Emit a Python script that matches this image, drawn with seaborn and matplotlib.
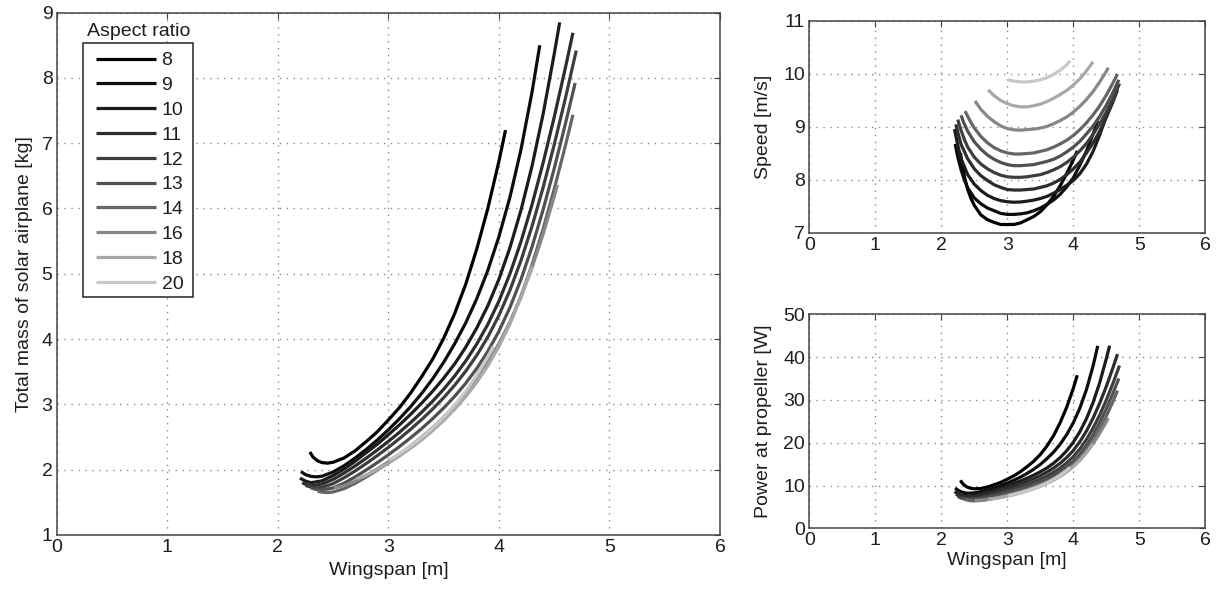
import matplotlib
matplotlib.use("Agg")
import matplotlib.pyplot as plt
from matplotlib.patches import Rectangle
import pandas as pd
import seaborn as sns

# ---------------- data ----------------
ASPECT_RATIOS = ["8", "9", "10", "11", "12", "13", "14", "16", "18", "20"]
LINE_COLORS = ["#000000", "#0d0d0d", "#1c1c1c", "#2c2c2c", "#3d3d3d",
               "#505050", "#656565", "#878787", "#a8a8a8", "#c8c8c8"]

# wingspan [m], total mass [kg], speed [m/s], power at propeller [W]
b8 = [2.29, 2.32, 2.36, 2.40, 2.45, 2.50, 2.60, 2.70, 2.80, 2.90, 3.00, 3.10, 3.20, 3.30,
      3.40, 3.50, 3.60, 3.70, 3.80, 3.90, 4.00, 4.06]
m8 = [2.27, 2.19, 2.135, 2.108, 2.10, 2.113, 2.18, 2.29, 2.43, 2.58, 2.76, 2.95, 3.17, 3.42,
      3.69, 4.01, 4.39, 4.84, 5.38, 6.00, 6.72, 7.20]
v8 = [8.51, 8.25, 8.01, 7.82, 7.65, 7.52, 7.34, 7.25, 7.20, 7.16, 7.16, 7.16, 7.19, 7.25,
      7.31, 7.40, 7.53, 7.69, 7.89, 8.12, 8.38, 8.55]
p8 = [11.22, 10.50, 9.94, 9.58, 9.33, 9.23, 9.30, 9.65, 10.17, 10.73, 11.48, 12.27, 13.24, 14.41,
      15.67, 17.24, 19.21, 21.63, 24.66, 28.31, 32.72, 35.77]

b9 = [2.21, 2.25, 2.30, 2.35, 2.40, 2.50, 2.60, 2.70, 2.80, 2.90, 3.00, 3.10, 3.20, 3.30,
      3.40, 3.50, 3.60, 3.70, 3.80, 3.90, 4.00, 4.10, 4.20, 4.30, 4.37]
m9 = [1.97, 1.925, 1.897, 1.89, 1.90, 1.964, 2.061, 2.179, 2.31, 2.454, 2.61, 2.779, 2.962, 3.164,
      3.389, 3.643, 3.928, 4.248, 4.618, 5.053, 5.566, 6.173, 6.903, 7.783, 8.50]
v9 = [8.68, 8.43, 8.19, 8.00, 7.85, 7.66, 7.55, 7.47, 7.42, 7.37, 7.35, 7.35, 7.36, 7.38,
      7.42, 7.47, 7.54, 7.62, 7.73, 7.87, 8.04, 8.28, 8.55, 8.87, 9.12]
p9 = [9.41, 8.93, 8.55, 8.32, 8.20, 8.27, 8.56, 8.95, 9.43, 9.96, 10.57, 11.23, 11.97, 12.83,
      13.79, 14.93, 16.27, 17.78, 19.63, 21.90, 24.67, 28.11, 32.46, 37.97, 42.64]

b10 = [2.20, 2.25, 2.30, 2.40, 2.50, 2.60, 2.70, 2.80, 2.90, 3.00, 3.10, 3.20, 3.30, 3.40,
       3.50, 3.60, 3.70, 3.80, 3.90, 4.00, 4.10, 4.20, 4.30, 4.40, 4.50, 4.55]
m10 = [1.87, 1.826, 1.80, 1.83, 1.91, 2.01, 2.13, 2.26, 2.39, 2.535, 2.685, 2.845, 3.016, 3.20,
       3.40, 3.62, 3.875, 4.17, 4.51, 4.915, 5.40, 5.975, 6.65, 7.445, 8.36, 8.85]
v10 = [8.96, 8.65, 8.40, 8.10, 7.92, 7.80, 7.71, 7.65, 7.61, 7.59, 7.58, 7.585, 7.60, 7.62,
       7.65, 7.69, 7.75, 7.82, 7.90, 7.99, 8.12, 8.30, 8.54, 8.85, 9.20, 9.40]
p10 = [8.58, 8.09, 7.74, 7.61, 7.78, 8.09, 8.50, 8.96, 9.40, 9.93, 10.48, 11.06, 11.71, 12.42,
       13.21, 14.10, 15.20, 16.52, 18.13, 20.11, 22.59, 25.64, 29.42, 34.04, 39.64, 42.68]

b11 = [2.22, 2.26, 2.30, 2.40, 2.50, 2.60, 2.70, 2.80, 2.90, 3.00, 3.10, 3.20, 3.30, 3.40,
       3.50, 3.60, 3.70, 3.80, 3.90, 4.00, 4.10, 4.20, 4.30, 4.40, 4.50, 4.60, 4.67]
m11 = [1.80, 1.77, 1.752, 1.78, 1.851, 1.948, 2.058, 2.176, 2.301, 2.433, 2.572, 2.72, 2.877, 3.047,
       3.231, 3.435, 3.664, 3.924, 4.225, 4.58, 5.00, 5.493, 6.06, 6.698, 7.395, 8.143, 8.69]
v11 = [9.05, 8.85, 8.67, 8.40, 8.21, 8.08, 7.99, 7.91, 7.86, 7.82, 7.81, 7.81, 7.82, 7.83,
       7.86, 7.89, 7.94, 8.01, 8.10, 8.21, 8.34, 8.51, 8.70, 8.92, 9.18, 9.47, 9.70]
p11 = [7.95, 7.64, 7.41, 7.30, 7.43, 7.73, 8.09, 8.48, 8.93, 9.38, 9.87, 10.41, 10.98, 11.61,
       12.31, 13.13, 14.07, 15.19, 16.54, 18.19, 20.25, 22.76, 25.76, 29.25, 33.16, 37.51, 40.71]

b12 = [2.25, 2.29, 2.35, 2.40, 2.50, 2.60, 2.70, 2.80, 2.90, 3.00, 3.10, 3.20, 3.30, 3.40,
       3.50, 3.60, 3.70, 3.80, 3.90, 4.00, 4.10, 4.20, 4.30, 4.40, 4.50, 4.60, 4.70]
m12 = [1.76, 1.737, 1.72, 1.729, 1.786, 1.876, 1.981, 2.095, 2.215, 2.341, 2.475, 2.616, 2.766, 2.927,
       3.101, 3.293, 3.508, 3.751, 4.032, 4.361, 4.748, 5.203, 5.728, 6.32, 6.973, 7.675, 8.418]
v12 = [9.14, 8.97, 8.76, 8.62, 8.43, 8.30, 8.21, 8.14, 8.09, 8.06, 8.05, 8.05, 8.06, 8.08,
       8.10, 8.14, 8.19, 8.25, 8.33, 8.43, 8.55, 8.69, 8.86, 9.06, 9.28, 9.53, 9.82]
p12 = [7.40, 7.17, 6.92, 6.86, 6.94, 7.21, 7.55, 7.92, 8.33, 8.77, 9.23, 9.72, 10.26, 10.84,
       11.48, 12.22, 13.07, 14.08, 15.28, 16.75, 18.56, 20.77, 23.42, 26.48, 29.99, 33.86, 38.03]

b13 = [2.30, 2.34, 2.40, 2.50, 2.60, 2.70, 2.80, 2.90, 3.00, 3.10, 3.20, 3.30, 3.40,
       3.50, 3.60, 3.70, 3.80, 3.90, 4.00, 4.10, 4.20, 4.30, 4.40, 4.50, 4.60, 4.69]
m13 = [1.72, 1.70, 1.69, 1.72, 1.794, 1.889, 1.995, 2.108, 2.227, 2.353, 2.486, 2.627, 2.779,
       2.943, 3.123, 3.323, 3.55, 3.812, 4.119, 4.483, 4.913, 5.413, 5.98, 6.608, 7.285, 7.92]
v13 = [9.22, 9.08, 8.92, 8.72, 8.58, 8.47, 8.39, 8.33, 8.29, 8.27, 8.27, 8.28, 8.29,
       8.32, 8.35, 8.39, 8.45, 8.53, 8.62, 8.73, 8.87, 9.02, 9.20, 9.41, 9.65, 9.89]
p13 = [7.09, 6.88, 6.71, 6.67, 6.86, 7.17, 7.53, 7.92, 8.31, 8.76, 9.22, 9.72, 10.29,
       10.88, 11.56, 12.34, 13.27, 14.36, 15.69, 17.33, 19.39, 21.83, 24.70, 27.94, 31.55, 35.01]

b14 = [2.36, 2.40, 2.45, 2.50, 2.60, 2.70, 2.80, 2.90, 3.00, 3.10, 3.20, 3.30, 3.40,
       3.50, 3.60, 3.70, 3.80, 3.90, 4.00, 4.10, 4.20, 4.30, 4.40, 4.50, 4.60, 4.67]
m14 = [1.67, 1.656, 1.65, 1.658, 1.709, 1.791, 1.888, 1.993, 2.105, 2.224, 2.35, 2.484, 2.629,
       2.785, 2.957, 3.148, 3.364, 3.612, 3.903, 4.248, 4.658, 5.138, 5.686, 6.293, 6.951, 7.436]
v14 = [9.30, 9.20, 9.08, 8.98, 8.82, 8.70, 8.61, 8.55, 8.51, 8.49, 8.49, 8.50, 8.51,
       8.54, 8.57, 8.62, 8.68, 8.75, 8.84, 8.95, 9.08, 9.23, 9.40, 9.60, 9.83, 10.00]
p14 = [6.72, 6.57, 6.44, 6.40, 6.49, 6.74, 7.05, 7.41, 7.79, 8.20, 8.65, 9.12, 9.64,
       10.21, 10.86, 11.60, 12.45, 13.48, 14.74, 16.26, 18.15, 20.44, 23.14, 26.21, 29.61, 32.19]

b16 = [2.51, 2.60, 2.70, 2.80, 2.90, 3.00, 3.10, 3.20, 3.30, 3.40, 3.50, 3.60, 3.70, 3.80,
       3.90, 4.00, 4.10, 4.20, 4.30, 4.40, 4.50, 4.53]
m16 = [1.72, 1.756, 1.824, 1.911, 2.011, 2.12, 2.237, 2.363, 2.498, 2.644, 2.803, 2.978, 3.173, 3.395,
       3.646, 3.931, 4.261, 4.646, 5.094, 5.606, 6.179, 6.36]
v16 = [9.49, 9.33, 9.20, 9.10, 9.02, 8.97, 8.945, 8.94, 8.95, 8.96, 8.98, 9.01, 9.06, 9.12,
       9.19, 9.28, 9.39, 9.52, 9.67, 9.85, 10.05, 10.12]
p16 = [6.53, 6.55, 6.72, 6.98, 7.30, 7.66, 8.04, 8.48, 8.94, 9.46, 10.02, 10.67, 11.42, 12.30,
       13.34, 14.58, 16.02, 17.77, 19.83, 22.20, 24.86, 25.75]

b18 = [2.71, 2.80, 2.90, 3.00, 3.10, 3.20, 3.30, 3.40, 3.50, 3.60, 3.70, 3.80, 3.90, 4.00,
       4.10, 4.20, 4.30]
m18 = [1.86, 1.916, 2.00, 2.098, 2.207, 2.326, 2.455, 2.597, 2.752, 2.925, 3.118, 3.338, 3.592, 3.887,
       4.233, 4.641, 5.113]
v18 = [9.70, 9.59, 9.50, 9.44, 9.40, 9.38, 9.38, 9.40, 9.43, 9.48, 9.54, 9.61, 9.69, 9.79,
       9.91, 10.06, 10.23]
p18 = [6.82, 6.95, 7.18, 7.49, 7.84, 8.25, 8.70, 9.23, 9.81, 10.48, 11.24, 12.13, 13.16, 14.38,
       15.86, 17.65, 19.77]

b20 = [3.01, 3.10, 3.20, 3.30, 3.40, 3.50, 3.60, 3.70, 3.80, 3.90, 3.95]
m20 = [2.15, 2.244, 2.361, 2.491, 2.637, 2.801, 2.987, 3.20, 3.446, 3.732, 3.89]
v20 = [9.89, 9.865, 9.85, 9.85, 9.865, 9.89, 9.93, 9.99, 10.07, 10.17, 10.25]
p20 = [7.61, 7.93, 8.33, 8.78, 9.31, 9.92, 10.62, 11.44, 12.42, 13.59, 14.27]

WINGSPANS = [b8, b9, b10, b11, b12, b13, b14, b16, b18, b20]
MASSES = [m8, m9, m10, m11, m12, m13, m14, m16, m18, m20]
SPEEDS = [v8, v9, v10, v11, v12, v13, v14, v16, v18, v20]
POWERS = [p8, p9, p10, p11, p12, p13, p14, p16, p18, p20]

# ---------------- long-form table ----------------
rows = []
for ar, bs, ms, vs, ps in zip(ASPECT_RATIOS, WINGSPANS, MASSES, SPEEDS, POWERS):
    for b, m, v, p in zip(bs, ms, vs, ps):
        rows.append({"AR": ar, "Wingspan": b, "Mass": m, "Speed": v, "Power": p})
df = pd.DataFrame(rows)
palette = dict(zip(ASPECT_RATIOS, LINE_COLORS))

# ---------------- style ----------------
sns.set_theme(style="white")
plt.rcParams["font.family"] = ["Liberation Sans", "DejaVu Sans"]
FS = 14
TXT = "#1e1e1e"
FRAME = "#444444"
LW = 2.3

fig = plt.figure(figsize=(12.17, 5.91), dpi=100)
ax_m = fig.add_axes([0.0466, 0.0948, 0.5450, 0.8840])
ax_v = fig.add_axes([0.6650, 0.6058, 0.3254, 0.3587])
ax_p = fig.add_axes([0.6650, 0.1061, 0.3254, 0.3620])


def draw(ax, ycol):
    sns.lineplot(data=df, x="Wingspan", y=ycol, hue="AR", hue_order=ASPECT_RATIOS,
                 palette=palette, sort=False, estimator=None, linewidth=LW,
                 legend=False, ax=ax)
    for ln in ax.lines:
        ln.set_solid_capstyle("butt")
        ln.set_solid_joinstyle("round")


def style(ax, yticks, ylim):
    ax.set_xlim(0, 6)
    ax.set_ylim(*ylim)
    ax.set_xticks(range(0, 7))
    ax.set_yticks(yticks)
    ax.grid(True, color="#8a8a8a", linestyle=(0, (1, 4)), linewidth=1.0)
    ax.set_axisbelow(True)
    ax.tick_params(direction="in", length=4, width=0.8, color=FRAME,
                   top=True, right=True, labelsize=FS, labelcolor=TXT, pad=3)
    for s in ax.spines.values():
        s.set_visible(True)
        s.set_color(FRAME)
        s.set_linewidth(1.1)
    ax.set_xlabel("")
    ax.set_ylabel("")


draw(ax_m, "Mass")
draw(ax_v, "Speed")
draw(ax_p, "Power")

style(ax_m, range(1, 10), (1, 9))
style(ax_v, range(7, 12), (7, 11))
style(ax_p, range(0, 51, 10), (0, 50))

ax_m.set_ylabel("Total mass of solar airplane [kg]", fontsize=FS, color=TXT, labelpad=6)
ax_m.set_xlabel("Wingspan [m]", fontsize=FS, color=TXT, labelpad=4)
ax_v.set_ylabel("Speed [m/s]", fontsize=FS, color=TXT, labelpad=8)
ax_p.set_ylabel("Power at propeller [W]", fontsize=FS, color=TXT, labelpad=8)
ax_p.set_xlabel("Wingspan [m]", fontsize=FS, color=TXT, labelpad=2)

# legend: framed box with the title sitting above the frame
ax_m.add_patch(Rectangle((0.0397, 0.4555), 0.1658, 0.4861, transform=ax_m.transAxes,
                         facecolor="white", edgecolor="#222222", linewidth=1.1, zorder=4))
handles = ax_m.lines[:len(ASPECT_RATIOS)]
leg = ax_m.legend(handles, ASPECT_RATIOS, loc="upper left",
                  bbox_to_anchor=(0.0592, 0.9248), borderaxespad=0, borderpad=0,
                  frameon=False, handlelength=3.1, handletextpad=0.27,
                  labelspacing=0.37, fontsize=FS)
leg.set_zorder(5)
for t in leg.get_texts():
    t.set_color(TXT)
ax_m.text(0.124, 0.9646, "Aspect ratio", transform=ax_m.transAxes,
          ha="center", va="center", fontsize=FS, color=TXT, zorder=6)

fig.savefig("out.png", dpi=100, facecolor="white")
